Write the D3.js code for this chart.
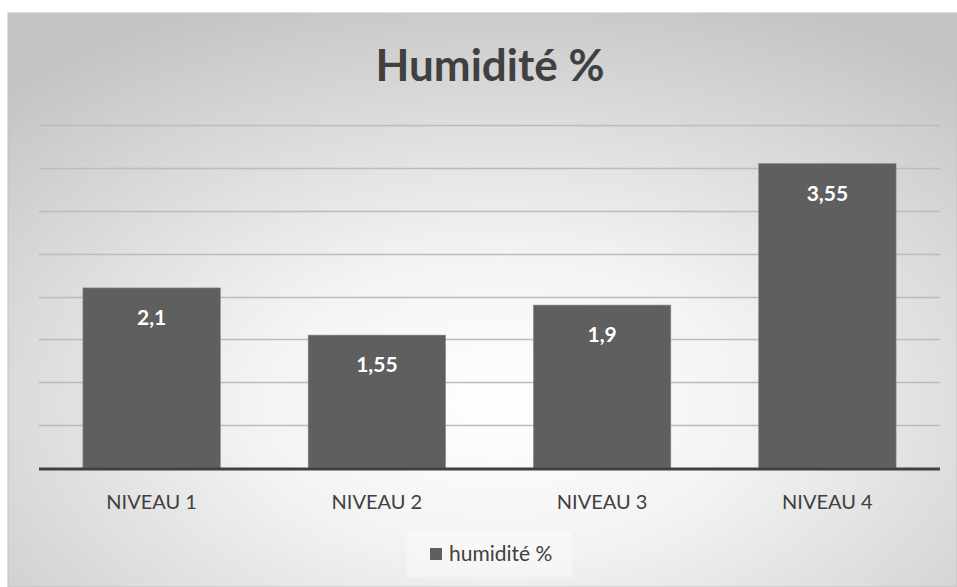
<!DOCTYPE html>
<html>
<head>
<meta charset="utf-8">
<script src="https://cdn.jsdelivr.net/npm/d3@7"></script>
<style>
  body { margin: 0; background: #fff; }
  svg { display: block; font-family: Lato, "Open Sans", sans-serif; }
</style>
</head>
<body>
<div id="chart"></div>
<script>
// data
const categories = ["NIVEAU 1", "NIVEAU 2", "NIVEAU 3", "NIVEAU 4"];
const values = [2.1, 1.55, 1.9, 3.55];
const yTicks = [0, 0.5, 1, 1.5, 2, 2.5, 3, 3.5, 4];
const seriesName = "humidité %";
const title = "Humidité %";

const width = 957, height = 587;

const svg = d3.select("#chart").append("svg")
  .attr("width", width)
  .attr("height", height);

const defs = svg.append("defs");
const grad = defs.append("radialGradient")
  .attr("id", "bg")
  .attr("cx", "52%").attr("cy", "68%")
  .attr("r", "75%");
grad.append("stop").attr("offset", "0%").attr("stop-color", "#ffffff");
grad.append("stop").attr("offset", "35%").attr("stop-color", "#f3f3f3");
grad.append("stop").attr("offset", "100%").attr("stop-color", "#c4c4c4");

// chart frame
svg.append("rect")
  .attr("x", 8).attr("y", 13)
  .attr("width", width - 8).attr("height", height - 13)
  .attr("fill", "url(#bg)")
  .attr("stroke", "#c2c2c2")
  .attr("stroke-width", 1);

const x = d3.scaleBand()
  .domain(categories)
  .range([39, 940])
  .paddingInner(0.39)
  .paddingOuter(0.195);

const y = d3.scaleLinear()
  .domain([0, 4])
  .range([468, 125]);

// gridlines
svg.append("g")
  .selectAll("line")
  .data(yTicks.filter(d => d > 0))
  .join("line")
  .attr("x1", 39).attr("x2", 940)
  .attr("y1", d => Math.round(y(d)) + 0.5)
  .attr("y2", d => Math.round(y(d)) + 0.5)
  .attr("stroke", "#bcbcbc")
  .attr("stroke-width", 1.5);

// title
svg.append("text")
  .attr("x", 490).attr("y", 81)
  .attr("text-anchor", "middle")
  .attr("font-size", 44)
  .attr("font-weight", "bold")
  .attr("fill", "#404040")
  .text(title);

// bars
svg.append("g")
  .selectAll("rect")
  .data(values)
  .join("rect")
  .attr("x", (d, i) => x(categories[i]))
  .attr("y", d => y(d))
  .attr("width", x.bandwidth())
  .attr("height", d => y(0) - y(d))
  .attr("fill", "#5f5f5f")
  .attr("stroke", "#8a8a8a")
  .attr("stroke-width", 0.6);

// value labels
svg.append("g")
  .selectAll("text")
  .data(values)
  .join("text")
  .attr("x", (d, i) => x(categories[i]) + x.bandwidth() / 2)
  .attr("y", d => y(d) + 37)
  .attr("text-anchor", "middle")
  .attr("font-size", 21)
  .attr("font-weight", "bold")
  .attr("fill", "#ffffff")
  .text(d => String(d).replace(".", ","));

// baseline axis
svg.append("line")
  .attr("x1", 39).attr("x2", 940)
  .attr("y1", y(0) + 1).attr("y2", y(0) + 1)
  .attr("stroke", "#404040")
  .attr("stroke-width", 3);

// category labels
const xAxis = d3.axisBottom(x).tickSize(0).tickPadding(0);
const gx = svg.append("g")
  .attr("transform", `translate(0,${y(0)})`)
  .call(xAxis);
gx.select(".domain").remove();
gx.selectAll("text")
  .attr("y", 41)
  .attr("dy", 0)
  .attr("font-size", 20)
  .attr("font-family", "Lato, \"Open Sans\", sans-serif")
  .attr("fill", "#404040");

// legend
const lg = svg.append("g");
lg.append("rect")
  .attr("x", 407).attr("y", 532)
  .attr("width", 165).attr("height", 45)
  .attr("fill", "#ffffff").attr("opacity", 0.35);
lg.append("rect")
  .attr("x", 430).attr("y", 548)
  .attr("width", 12).attr("height", 12)
  .attr("fill", "#5f5f5f");
lg.append("text")
  .attr("x", 449).attr("y", 561)
  .attr("font-size", 21)
  .attr("fill", "#404040")
  .text(seriesName);
</script>
</body>
</html>
